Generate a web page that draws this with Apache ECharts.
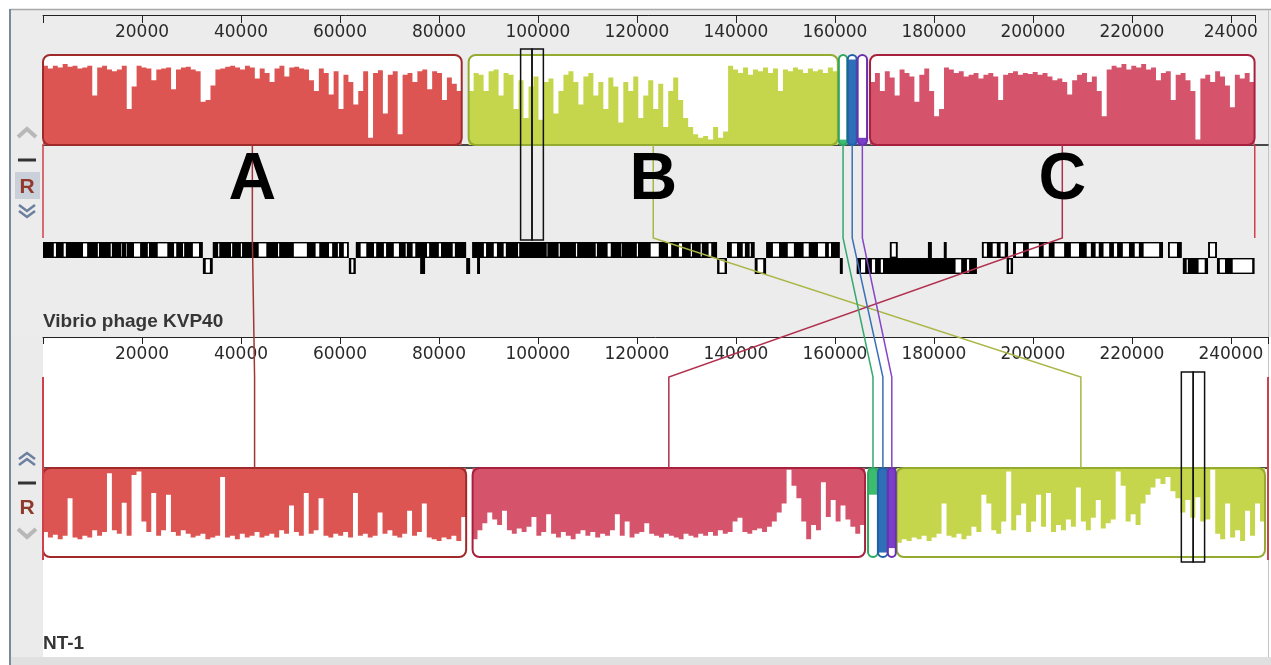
<!DOCTYPE html>
<html><head><meta charset="utf-8">
<script src="https://cdn.jsdelivr.net/npm/echarts@6/dist/echarts.min.js"></script>
<style>html,body{margin:0;padding:0;background:#fff;}#c{width:1271px;height:665px;}</style>
</head><body><div id="c"></div>
<script>
// ---------------- DATA ----------------
const topGenomeName = 'Vibrio phage KVP40';
const bottomGenomeName = 'NT-1';
const topGenomeLength = 244834;
const bottomGenomeLength = 247511;
const tickValues = [20000,40000,60000,80000,100000,120000,140000,160000,180000,200000,220000,240000];
const topTickLabels = ['20000','40000','60000','80000','100000','120000','140000','160000','180000','200000','220000','24000'];
const bottomTickLabels = ['20000','40000','60000','80000','100000','120000','140000','160000','180000','200000','220000','240000'];

// LCBs: A, B, C, green, blue, purple
const lcbLetters = ['A','B','C','','',''];
const topBlockStart = [0, 86000, 167100, 160800, 162600, 164600];
const topBlockEnd   = [84600, 160600, 244800, 162500, 164400, 166500];
const bottomBlockStart = [0, 172500, 86800, 166700, 168700, 170700];
const bottomBlockEnd   = [85500, 246900, 166100, 168700, 170700, 172300];

const topProfileA = [88,85,88,86,90,87,88,85,86,88,55,86,88,84,82,84,88,40,65,88,86,85,72,84,85,86,62,84,86,87,84,82,48,50,66,84,85,87,88,86,84,88,86,74,85,80,70,85,88,76,86,87,85,84,72,60,85,80,56,82,40,78,70,45,60,82,8,80,83,35,78,82,12,78,80,70,82,84,62,82,80,50,75,68,60];
const topProfileB = [60,80,78,60,82,84,55,80,78,40,72,30,65,76,28,70,74,35,60,78,82,70,45,76,80,55,70,40,75,65,25,70,60,76,30,55,72,40,68,20,60,75,50,30,20,12,8,10,6,20,8,15,88,84,80,86,78,84,82,86,80,85,60,84,82,86,84,80,85,82,84,80,86,82];
const topProfileC = [70,80,60,82,75,55,84,80,76,48,78,85,60,32,40,86,84,80,82,76,78,80,74,78,80,76,50,78,80,82,78,80,79,81,78,80,76,72,74,70,56,72,78,80,70,76,60,32,84,88,86,90,84,88,86,90,84,86,72,80,82,50,78,80,72,60,6,74,78,70,82,76,66,42,78,74,80,70];
const topProfileGreen = [6];
const topProfileBlue = [95];
const topProfilePurple = [8];
const bottomProfileA = [72,78,75,80,76,34,78,80,76,78,70,76,72,6,70,74,39,76,8,4,60,72,28,76,70,30,72,76,70,74,78,76,74,80,78,76,10,78,76,80,74,78,76,72,78,76,74,78,70,74,42,72,76,28,74,70,34,76,78,74,76,72,78,28,76,74,78,76,50,74,70,76,78,74,48,76,72,40,78,80,82,78,80,76,82,55];
const bottomProfileB = [84,80,82,78,80,76,82,78,74,40,76,78,74,80,76,66,72,30,40,70,74,60,4,70,53,40,72,60,30,66,28,72,64,70,58,66,22,60,70,56,36,68,62,58,4,20,60,52,64,40,30,22,12,18,10,26,34,50,36,56,33,60,58,2,74,80,40,78,70,82,48,76,40,60];
const bottomProfileC = [80,70,62,50,58,64,48,70,74,68,72,66,55,76,72,52,74,78,72,76,80,74,70,76,72,78,74,76,70,52,76,60,78,74,72,62,74,76,78,74,76,78,80,74,76,78,74,76,72,76,70,74,72,60,56,72,74,70,68,72,66,60,50,40,2,20,34,60,80,64,70,16,55,36,60,42,58,66,74,64];
const bottomProfileGreen = [30];
const bottomProfileBlue = [95];
const bottomProfilePurple = [90];

// genes of the top genome (kb): dense runs and visible (white) gene boxes
const fwdRunsKb = [[0,32.3],[34.3,61.8],[63.2,85.5],[86.7,136.2],[138.2,143.8],[146.1,161.0],[171.1,172.7],[178.8,179.6],[182.0,182.6],[189.7,195.0],[196.0,226.3],[227.3,230.1],[235.4,237.2]];
const fwdBoxesKb = [[2.0,2.8],[4.0,4.8],[7.9,9.1],[10.9,11.5],[13.5,14.1],[15.6,16.0],[16.6,17.0],[18.2,19.8],[21.0,21.6],[23.0,25.3],[26.3,27.1],[28.1,28.7],[30.1,31.7],
  [35.2,35.8],[37.8,38.4],[39.8,40.4],[43.4,45.3],[47.3,47.9],[50.5,53.5],[54.9,56.0],[57.6,58.6],[59.4,60.0],[60.6,61.6],
  [64.0,65.5],[66.7,67.5],[68.7,69.5],[70.7,72.1],[73.1,73.7],[74.5,75.4],[77.4,78.2],[79.8,80.6],[82.6,83.4],
  [88.9,89.7],[90.9,91.9],[92.9,93.7],[95.8,96.4],[101.6,102.0],[104.0,104.6],[107.5,108.1],[111.5,112.1],[113.9,114.9],[116.6,117.0],[119.8,120.4],[122.6,124.6],[126.1,127.1],[128.3,129.3],[130.7,131.3],[132.7,133.3],[134.3,135.2],
  [139.0,140.4],[141.2,142.0],[142.6,143.2],
  [147.3,148.9],[150.3,151.9],[153.5,154.9],[156.4,158.2],[158.6,159.4],
  [171.3,172.5],
  [189.9,190.9],[191.7,192.9],[193.3,194.5],
  [196.4,198.2],[199.0,201.4],[202.0,203.4],[204.2,206.5],[207.5,209.5],[210.7,211.9],[212.5,213.5],[214.1,215.6],[216.2,217.2],[218.0,219.6],[220.4,221.6],[222.2,225.7],
  [227.5,229.3],[235.6,237.0]];
const revRunsKb = [[32.3,34.3],[61.8,63.2],[76.2,77.2],[85.5,86.3],[87.7,88.3],[136.2,138.2],[143.8,146.1],[161.0,161.6],[164.4,188.7],[194.7,196.0],[230.3,235.4],[237.2,244.8]];
const revBoxesKb = [[32.7,33.9],[62.1,62.9],[136.5,137.9],[144.2,145.7],[165.1,166.3],[167.3,168.3],[169.1,169.9],[184.2,185.7],[186.5,187.3],[195.0,195.7],[230.9,231.5],[233.3,234.9],[237.6,239.0],[240.2,244.5]];

// cursor (highlight) boundaries, bp
const cursorTop = [96500, 98800, 101100];
const cursorBottom = [230000, 232400, 234700];
// genome-end marks: [genome, bp]
const edgeMarks = [['top', 244834], ['top', 0], ['bottom', 0], ['bottom', 247511]];

// ---------------- STYLE / LAYOUT ----------------
const fillColors  = ['#dc5553','#c6d64c','#d5546c','#3dbb6e','#2f6fb8','#7a3fc6'];
const frameColors = ['#a02a2a','#93ac30','#a8203e','#2ea860','#2060a8','#6a30b0'];
const lineColors  = ['#a03636','#aab646','#b0304e','#35a870','#3a6fb8','#8545c8'];
const topProfiles = [topProfileA, topProfileB, topProfileC, topProfileGreen, topProfileBlue, topProfilePurple];
const bottomProfiles = [bottomProfileA, bottomProfileB, bottomProfileC, bottomProfileGreen, bottomProfileBlue, bottomProfilePurple];

const PLOT_LEFT = 43, PLOT_W = 1225;
const X_MAX = bottomGenomeLength;
const pxPerBp = PLOT_W / X_MAX;
const Y_TOP_BASE = 145, Y_TOP_BEND = 238, Y_BOT_BEND = 377, Y_BOT_BASE = 468;

const chart = echarts.init(document.getElementById('c'), null, {renderer:'canvas'});

function rectFrom(p0, p1){
  return {x:Math.min(p0[0],p1[0]), y:Math.min(p0[1],p1[1]), width:Math.abs(p1[0]-p0[0]), height:Math.abs(p1[1]-p0[1])};
}
function blockRenderer(starts, ends, profiles){
  return function(params, api){
    const i = api.value(2);
    const s = starts[i], e = ends[i], vals = profiles[i];
    const n = vals.length, w = (e - s) / n;
    const pts = [api.coord([s, 0])];
    for (let k = 0; k < n; k++){
      const x0 = s + k*w, x1 = x0 + w;
      pts.push(api.coord([x0, vals[k]]), api.coord([x1, vals[k]]));
    }
    pts.push(api.coord([e, 0]));
    const r = rectFrom(api.coord([s, 100]), api.coord([e, 0]));
    const rad = Math.min(7, r.width/2);
    return {type:'group', children:[
      {type:'rect', shape:Object.assign({r:rad}, r), style:{fill:'#ffffff'}},
      {type:'polygon', shape:{points:pts}, style:{fill:fillColors[i]}},
      {type:'rect', shape:Object.assign({r:rad}, r), style:{fill:null, stroke:frameColors[i], lineWidth:2}}
    ]};
  };
}
const lcbIdx = [0,1,2,3,4,5];
const topBlockData = lcbIdx.map(i => [topBlockStart[i], topBlockEnd[i], i]);
const bottomBlockData = lcbIdx.map(i => [bottomBlockStart[i], bottomBlockEnd[i], i]);

const geneRunData = fwdRunsKb.map(g => [g[0]*1000, g[1]*1000, 1]).concat(revRunsKb.map(g => [g[0]*1000, g[1]*1000, 0]));
const geneBoxData = fwdBoxesKb.map(g => [g[0]*1000, g[1]*1000, 1]).concat(revBoxesKb.map(g => [g[0]*1000, g[1]*1000, 0]));

const connectorData = lcbIdx.map(i => [(topBlockStart[i]+topBlockEnd[i])/2, (bottomBlockStart[i]+bottomBlockEnd[i])/2, i]);
const cursorData = [];
for (let k = 0; k < cursorTop.length-1; k++) cursorData.push([cursorTop[k], cursorTop[k+1], 0]);
for (let k = 0; k < cursorBottom.length-1; k++) cursorData.push([cursorBottom[k], cursorBottom[k+1], 1]);
const edgeData = edgeMarks.map(m => [m[1], m[0]==='top'?0:1]);
const letterData = lcbIdx.filter(i => lcbLetters[i]).map(i => [(topBlockStart[i]+topBlockEnd[i])/2, i]);

function axisFmt(labels){
  return function(v){ const k = tickValues.indexOf(v); return k >= 0 ? labels[k] : ''; };
}
const axisLabelStyle = {fontFamily:'DejaVu Sans', fontSize:17, color:'#2a2a2a', margin:18, verticalAlign:'middle'};

function chevron(pts, color, w){ return {type:'polyline', z:50, shape:{points:pts}, style:{stroke:color, lineWidth:w, fill:null}}; }
function txt(x, y, t, font, color, align){ return {type:'text', z:50, x:x, y:y, style:{text:t, font:font, fill:color, align:align, verticalAlign:'middle', textAlign:align, textVerticalAlign:'middle'}}; }

const graphics = [
  {type:'rect', z:-20, shape:{x:0,y:0,width:1271,height:665}, style:{fill:'#ffffff'}},
  {type:'rect', z:-19, shape:{x:11,y:10,width:1260,height:327}, style:{fill:'#ececec'}},
  {type:'rect', z:-19, shape:{x:11,y:337,width:32,height:320}, style:{fill:'#ebebeb'}},
  {type:'rect', z:-19, shape:{x:10,y:657,width:1261,height:8}, style:{fill:'#e0e0e0'}},
  {type:'line', z:-18, shape:{x1:10,y1:9.5,x2:1271,y2:9.5}, style:{stroke:'#a8a8a8', lineWidth:1.5}},
  {type:'line', z:-18, shape:{x1:10,y1:9,x2:10,y2:665}, style:{stroke:'#7b8a9a', lineWidth:2}},
  {type:'line', z:-18, shape:{x1:1268.5,y1:10,x2:1268.5,y2:657}, style:{stroke:'#c4c4c4', lineWidth:1}},
  // top panel controls
  chevron([[18,137],[27,129],[36,137]], '#b8b8b8', 4),
  {type:'line', z:50, shape:{x1:18,y1:160,x2:36,y2:160}, style:{stroke:'#333', lineWidth:3}},
  {type:'rect', z:49, shape:{x:15,y:172,width:25,height:27}, style:{fill:'#c9d0da'}},
  txt(27, 187, 'R', 'bold 21px "Liberation Sans"', '#93392b', 'center'),
  chevron([[19,205],[27,211],[35,205]], '#6b7f9e', 2.5),
  chevron([[19,211],[27,217],[35,211]], '#6b7f9e', 2.5),
  // bottom panel controls
  chevron([[19,459],[27,453],[35,459]], '#6b7f9e', 2.5),
  chevron([[19,465],[27,459],[35,465]], '#6b7f9e', 2.5),
  {type:'line', z:50, shape:{x1:18,y1:483,x2:36,y2:483}, style:{stroke:'#333', lineWidth:3}},
  txt(27, 508, 'R', 'bold 21px "Liberation Sans"', '#8e3a2c', 'center'),
  chevron([[18,529],[27,537],[36,529]], '#b8b8b8', 4),
  // genome names
  txt(43, 322, topGenomeName, 'bold 19px "Liberation Sans"', '#363636', 'left'),
  txt(43, 644, bottomGenomeName, 'bold 19px "Liberation Sans"', '#363636', 'left')
];

const gridBase = {show:false, containLabel:false, outerBoundsMode:'none'};
const option = {
  animation:false,
  backgroundColor:'#ffffff',
  graphic:{elements:graphics},
  grid:[
    Object.assign({left:PLOT_LEFT, top:0, width:topGenomeLength*pxPerBp, height:15}, gridBase),
    Object.assign({left:PLOT_LEFT, top:55, width:PLOT_W, height:90}, gridBase),
    Object.assign({left:PLOT_LEFT, top:242, width:PLOT_W, height:32}, gridBase),
    Object.assign({left:PLOT_LEFT, top:0, width:PLOT_W, height:337}, gridBase),
    Object.assign({left:PLOT_LEFT, top:468, width:PLOT_W, height:89}, gridBase),
    Object.assign({left:PLOT_LEFT, top:0, width:PLOT_W, height:665}, gridBase)
  ],
  xAxis:[
    {gridIndex:0, type:'value', min:0, max:topGenomeLength, interval:20000, position:'bottom',
     axisLine:{show:true, onZero:false, lineStyle:{color:'#222', width:1}},
     axisTick:{show:true, length:8, lineStyle:{color:'#222', width:1}},
     axisLabel:Object.assign({formatter:axisFmt(topTickLabels)}, axisLabelStyle), splitLine:{show:false}},
    {gridIndex:1, type:'value', min:0, max:X_MAX, position:'bottom',
     axisLine:{show:true, onZero:false, lineStyle:{color:'#111', width:1.5}}, axisTick:{show:false}, axisLabel:{show:false}, splitLine:{show:false}},
    {gridIndex:2, type:'value', min:0, max:X_MAX, show:false},
    {gridIndex:3, type:'value', min:0, max:X_MAX, interval:20000, position:'bottom',
     axisLine:{show:true, onZero:false, lineStyle:{color:'#222', width:1}},
     axisTick:{show:true, length:7, lineStyle:{color:'#222', width:1}},
     axisLabel:Object.assign({formatter:axisFmt(bottomTickLabels)}, axisLabelStyle), splitLine:{show:false}},
    {gridIndex:4, type:'value', min:0, max:X_MAX, position:'top',
     axisLine:{show:true, onZero:false, lineStyle:{color:'#111', width:1.5}}, axisTick:{show:false}, axisLabel:{show:false}, splitLine:{show:false}},
    {gridIndex:5, type:'value', min:0, max:X_MAX, show:false}
  ],
  yAxis:[
    {gridIndex:0, type:'value', min:0, max:1, show:false},
    {gridIndex:1, type:'value', min:0, max:100, show:false},
    {gridIndex:2, type:'value', min:0, max:2, show:false},
    {gridIndex:3, type:'value', min:0, max:1, show:false},
    {gridIndex:4, type:'value', min:0, max:100, inverse:true, show:false},
    {gridIndex:5, type:'value', min:0, max:665, inverse:true, show:false}
  ],
  series:[
    {type:'custom', xAxisIndex:1, yAxisIndex:1, z:3, silent:true, data:topBlockData,
     renderItem:blockRenderer(topBlockStart, topBlockEnd, topProfiles)},
    {type:'custom', xAxisIndex:4, yAxisIndex:4, z:3, silent:true, data:bottomBlockData,
     renderItem:blockRenderer(bottomBlockStart, bottomBlockEnd, bottomProfiles)},
    {type:'custom', xAxisIndex:2, yAxisIndex:2, z:3, silent:true, data:geneRunData,
     renderItem:function(params, api){
       const s=api.value(0), e=api.value(1), row=api.value(2);
       const r = rectFrom(api.coord([s,row+1]), api.coord([e,row]));
       r.width = Math.max(1.2, r.width);
       return {type:'rect', shape:r, style:{fill:'#000000'}};
     }},
    {type:'custom', xAxisIndex:2, yAxisIndex:2, z:4, silent:true, data:geneBoxData,
     renderItem:function(params, api){
       const s=api.value(0), e=api.value(1), row=api.value(2);
       const r = rectFrom(api.coord([s,row+1]), api.coord([e,row]));
       return {type:'rect', shape:{x:r.x+0.9, y:r.y+1.4, width:Math.max(0.6, r.width-1.8), height:r.height-2.8}, style:{fill:'#ffffff'}};
     }},
    {type:'custom', xAxisIndex:5, yAxisIndex:5, z:6, silent:true, data:connectorData,
     renderItem:function(params, api){
       const t=api.value(0), b=api.value(1), i=api.value(2);
       const xt=api.coord([t,0])[0], xb=api.coord([b,0])[0];
       const yy = v => api.coord([0,v])[1];
       return {type:'polyline', shape:{points:[[xt,yy(Y_TOP_BASE)],[xt,yy(Y_TOP_BEND)],[xb,yy(Y_BOT_BEND)],[xb,yy(Y_BOT_BASE)]]},
               style:{stroke:lineColors[i], lineWidth:1.5, fill:null}};
     }},
    {type:'custom', xAxisIndex:5, yAxisIndex:5, z:6, silent:true, data:edgeData,
     renderItem:function(params, api){
       const p=api.value(0), g=api.value(1);
       const x=api.coord([p,0])[0];
       const y0 = g===0 ? Y_TOP_BASE : Y_BOT_BEND;
       const y1 = g===0 ? Y_TOP_BEND : Y_BOT_BASE + 92;
       return {type:'line', shape:{x1:x, y1:api.coord([0,y0])[1], x2:x, y2:api.coord([0,y1])[1]},
               style:{stroke:'#d0404c', lineWidth:g===0?1.5:2}};
     }},
    {type:'custom', xAxisIndex:5, yAxisIndex:5, z:7, silent:true, data:cursorData,
     renderItem:function(params, api){
       const a=api.value(0), b=api.value(1), g=api.value(2);
       const y0 = g===0 ? 49 : 372, y1 = g===0 ? 240 : 562;
       const r = rectFrom(api.coord([a,y0]), api.coord([b,y1]));
       return {type:'rect', shape:r, style:{fill:null, stroke:'#111', lineWidth:1.5}};
     }},
    {type:'custom', xAxisIndex:5, yAxisIndex:5, z:8, silent:true, data:letterData,
     renderItem:function(params, api){
       const c=api.coord([api.value(0), 181]);
       return {type:'text', x:c[0], y:c[1], style:{text:lcbLetters[api.value(1)], font:'bold 66px "Liberation Sans"', fill:'#000',
               align:'center', verticalAlign:'middle', textAlign:'center', textVerticalAlign:'middle'}};
     }}
  ]
};
chart.setOption(option);
</script></body></html>
